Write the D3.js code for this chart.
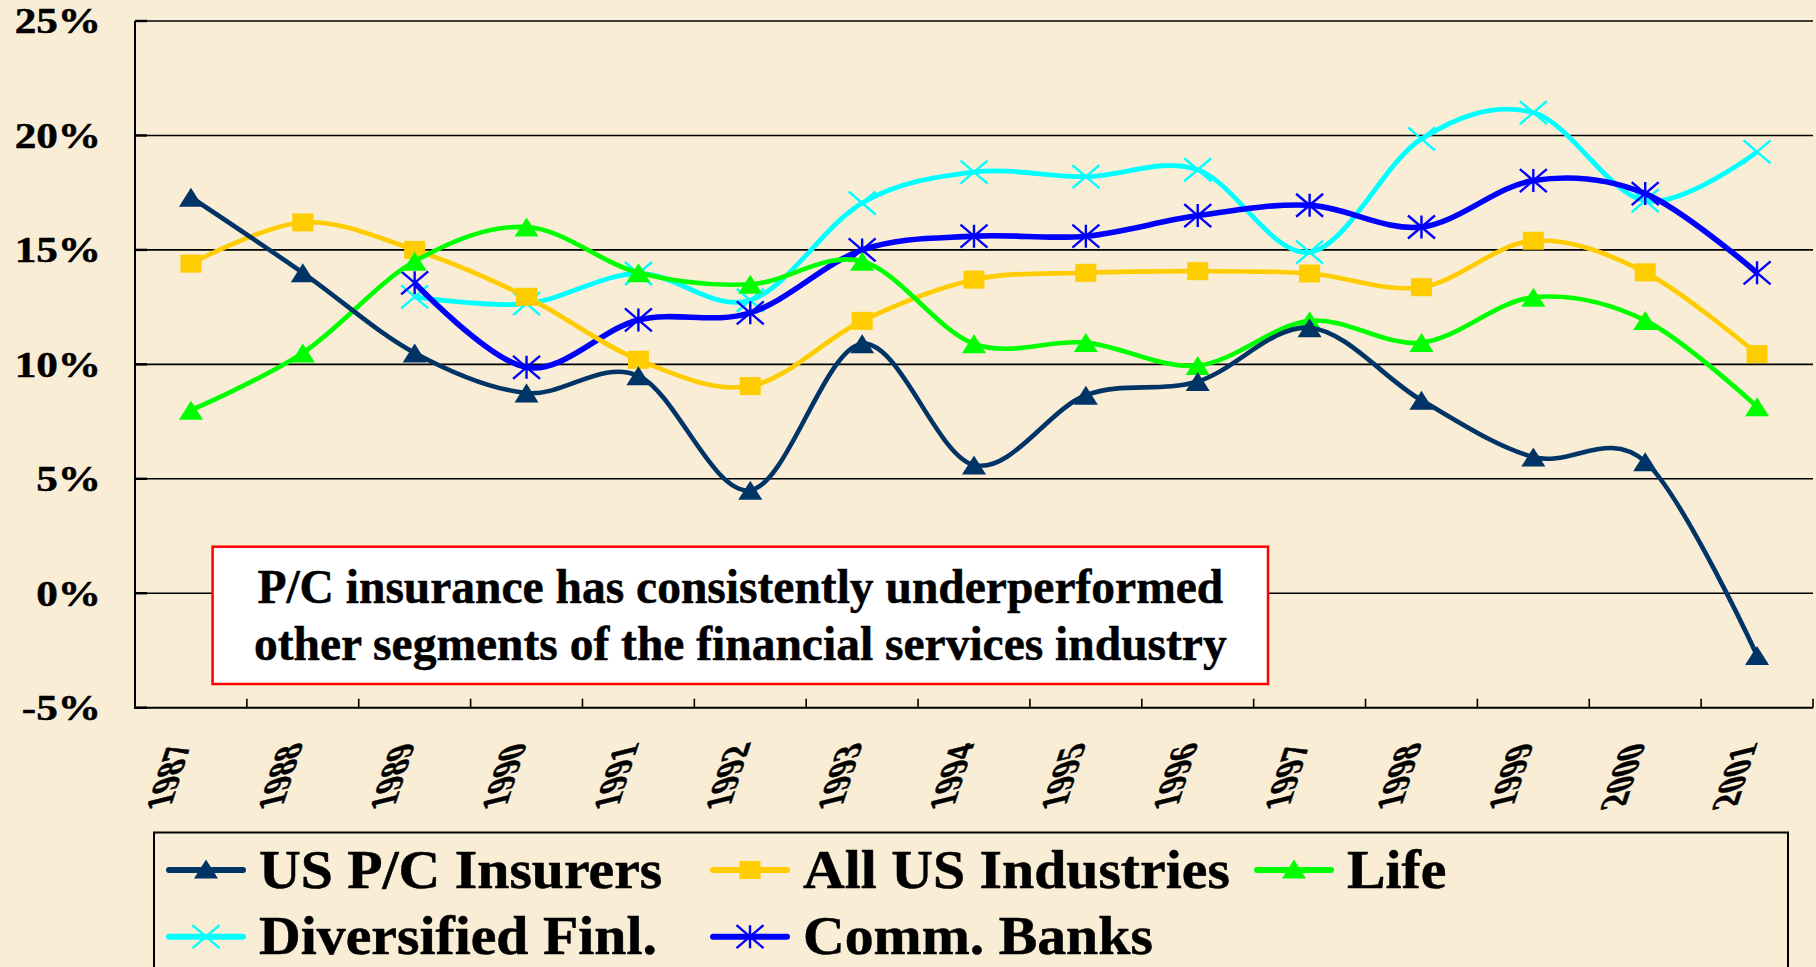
<!DOCTYPE html>
<html>
<head>
<meta charset="utf-8">
<script src="https://cdn.jsdelivr.net/npm/d3@7"></script>
<style>
  html, body { margin: 0; padding: 0; background: #F9EDD5; }
  svg { display: block; }
  text { font-family: "Liberation Serif", "Times New Roman", serif; font-weight: bold; fill: #000; stroke: #000; stroke-width: 0.5px; }
</style>
</head>
<body>
<svg id="chart" width="1816" height="967"></svg>
<script>
// ---------- DATA ----------
const years = ["1987","1988","1989","1990","1991","1992","1993","1994","1995","1996","1997","1998","1999","2000","2001"];
const usPC        = [17.3, 14.0, 10.5, 8.75, 9.5, 4.5, 10.9, 5.6, 8.65, 9.25, 11.6, 8.43, 5.95, 5.75, -2.72];
const allUS       = [14.4, 16.2, 15.0, 12.95, 10.2, 9.05, 11.9, 13.7, 14.0, 14.07, 13.97, 13.37, 15.4, 14.02, 10.45];
const life        = [8.0, 10.5, 14.5, 16.0, 14.0, 13.5, 14.5, 10.9, 10.95, 9.95, 11.9, 10.95, 12.93, 11.92, 8.15];
const diversified = [null, null, 12.95, 12.65, 13.97, 12.8, 17.05, 18.4, 18.2, 18.5, 14.9, 19.85, 21.0, 17.15, 19.28];
const commBanks   = [null, null, 13.56, 9.87, 11.94, 12.25, 15.0, 15.6, 15.6, 16.5, 16.95, 16.0, 18.03, 17.46, 14.0];
const yTicks      = [-5, 0, 5, 10, 15, 20, 25];
const seriesNames = ["US P/C Insurers", "All US Industries", "Life", "Diversified Finl.", "Comm. Banks"];
const seriesColors = ["#003366", "#FFCC00", "#00FF00", "#00FFFF", "#0000FF"];
const seriesMarkers = ["triangle", "square", "triangle", "x", "asterisk"];
const annotationLines = ["P/C insurance has consistently underperformed", "other segments of the financial services industry"];

const seriesValues = [usPC, allUS, life, diversified, commBanks];

// ---------- LAYOUT ----------
const svg = d3.select("#chart");
const plot = { left: 135, right: 1813, top: 21, bottom: 707.7 };
const x = d3.scaleBand().domain(years).range([plot.left, plot.right]).padding(0);
const cx = d => x(d) + x.bandwidth() / 2;
const y = d3.scaleLinear().domain([-5, 25]).range([plot.bottom, plot.top]);

// gridlines
svg.append("g").selectAll("line").data(yTicks.filter(t => t !== -5)).join("line")
  .attr("x1", plot.left).attr("x2", plot.right)
  .attr("y1", d => y(d)).attr("y2", d => y(d))
  .attr("stroke", "#000").attr("stroke-width", 1.6);

// y axis inward ticks
svg.append("g").selectAll("line").data(yTicks).join("line")
  .attr("x1", plot.left).attr("x2", plot.left + 12)
  .attr("y1", d => y(d)).attr("y2", d => y(d))
  .attr("stroke", "#000").attr("stroke-width", 2.4);

// y labels
svg.append("g").selectAll("text").data(yTicks).join("text")
  .attr("transform", d => `translate(101, ${y(d)}) scale(1.2,1)`)
  .attr("text-anchor", "end").attr("dy", "0.34em")
  .style("font-size", "36px")
  .text(d => d + "%");

// axes lines
svg.append("line").attr("x1", plot.left).attr("x2", plot.left).attr("y1", plot.top).attr("y2", plot.bottom + 1)
  .attr("stroke", "#000").attr("stroke-width", 2);
svg.append("line").attr("x1", plot.left - 1).attr("x2", plot.right).attr("y1", plot.bottom).attr("y2", plot.bottom)
  .attr("stroke", "#000").attr("stroke-width", 2);

// x ticks at band boundaries (inward)
svg.append("g").selectAll("line").data(years.slice(1).concat(["end"])).join("line")
  .attr("x1", d => d === "end" ? plot.right : x(d)).attr("x2", d => d === "end" ? plot.right : x(d))
  .attr("y1", plot.bottom).attr("y2", plot.bottom - 9)
  .attr("stroke", "#000").attr("stroke-width", 1.6);

// x labels (rotated + skewed)
svg.append("g").selectAll("text").data(years).join("text")
  .attr("transform", d => `translate(${cx(d) + 1}, 741) rotate(-72) skewX(32)`)
  .attr("text-anchor", "end")
  .style("font-size", "34px")
  .text(d => d);

// annotation box
const box = { x: 212.6, y: 546.7, w: 1055.4, h: 137.3 };
svg.append("rect").attr("x", box.x).attr("y", box.y).attr("width", box.w).attr("height", box.h)
  .attr("fill", "#fff").attr("stroke", "#FF0000").attr("stroke-width", 2.5);
svg.append("g").selectAll("text").data(annotationLines).join("text")
  .attr("x", box.x + box.w / 2).attr("y", (d, i) => 603 + i * 57)
  .attr("text-anchor", "middle")
  .style("font-size", "47.5px")
  .text(d => d);

// marker shapes
function markerPath(type, w, h) {
  const hw = w / 2, hh = h / 2;
  if (type === "triangle") return `M0,${-hh}L${hw},${hh}L${-hw},${hh}Z`;
  if (type === "square") return `M${-hw},${-hh}H${hw}V${hh}H${-hw}Z`;
  if (type === "x") return `M${-hw},${-hh}L${hw},${hh}M${hw},${-hh}L${-hw},${hh}`;
  if (type === "asterisk") return `M${-hw},${-hh}L${hw},${hh}M${hw},${-hh}L${-hw},${hh}M0,${-hh}V${hh}`;
}
const markerSize = { triangle: [24, 19], square: [21, 18], x: [27, 23], asterisk: [27, 23] };
const lineWidths = [4.6, 4.6, 4.6, 4.8, 5.6];

const lineGen = d3.line()
  .x(d => cx(d.year)).y(d => y(d.v))
  .curve(d3.curveCatmullRom.alpha(0));

const drawOrder = [3, 4, 1, 2, 0];
drawOrder.forEach(i => {
  const pts = years.map((yr, j) => ({ year: yr, v: seriesValues[i][j] })).filter(p => p.v !== null);
  const g = svg.append("g");
  g.append("path").datum(pts)
    .attr("d", lineGen).attr("fill", "none")
    .attr("stroke", seriesColors[i]).attr("stroke-width", lineWidths[i])
    .attr("stroke-linejoin", "round");
  const [mw, mh] = markerSize[seriesMarkers[i]];
  const filled = seriesMarkers[i] === "triangle" || seriesMarkers[i] === "square";
  g.selectAll("path.m").data(pts).join("path")
    .attr("class", "m")
    .attr("transform", d => `translate(${cx(d.year)},${y(d.v)})`)
    .attr("d", markerPath(seriesMarkers[i], mw, mh))
    .attr("fill", filled ? seriesColors[i] : "none")
    .attr("stroke", seriesColors[i])
    .attr("stroke-width", filled ? 0 : 2.4);
});

// legend
const legend = svg.append("g");
legend.append("rect").attr("x", 154).attr("y", 832.5).attr("width", 1634).attr("height", 160)
  .attr("fill", "none").attr("stroke", "#000").attr("stroke-width", 2);
const legendCols = [169, 713, 1257];
const legendRows = [870, 936.7];
seriesNames.forEach((name, i) => {
  const col = i % 3, row = Math.floor(i / 3);
  const lx = legendCols[col], ly = legendRows[row];
  const g = legend.append("g");
  g.append("line").attr("x1", lx).attr("x2", lx + 74).attr("y1", ly).attr("y2", ly)
    .attr("stroke", seriesColors[i]).attr("stroke-width", 6).attr("stroke-linecap", "round");
  const [mw, mh] = markerSize[seriesMarkers[i]];
  const filled = seriesMarkers[i] === "triangle" || seriesMarkers[i] === "square";
  g.append("path").attr("transform", `translate(${lx + 37},${ly - (seriesMarkers[i] === "triangle" ? 1 : 0)})`)
    .attr("d", markerPath(seriesMarkers[i], mw, mh))
    .attr("fill", filled ? seriesColors[i] : "none")
    .attr("stroke", seriesColors[i]).attr("stroke-width", filled ? 0 : 2.4);
  g.append("text").attr("transform", `translate(${lx + 90},${ly + 17.5}) scale(1.07,1)`)
    .style("font-size", "54px")
    .text(name);
});
</script>
</body>
</html>
